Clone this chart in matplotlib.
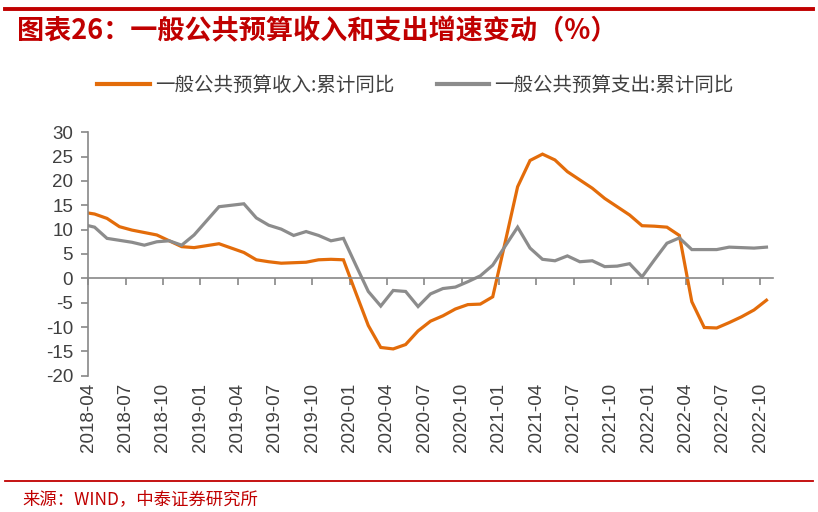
import matplotlib
matplotlib.use("Agg")
import matplotlib.pyplot as plt
from matplotlib.lines import Line2D
import pandas as pd

plt.rcParams["axes.unicode_minus"] = False

# monthly cumulative yoy, 2018-03 .. 2022-10
months = [str(p) for p in pd.period_range("2018-03", "2022-10", freq="M")]

revenue = [13.6, 13.2, 12.3, 10.6, 9.9, 9.4, 8.9, 7.7, 6.5, 6.3,
           6.7, 7.1, 6.2, 5.3, 3.8, 3.4, 3.1, 3.2, 3.3, 3.8, 3.9, 3.8,
           -3.0, -9.7, -14.2, -14.5, -13.6, -10.8, -8.8, -7.7, -6.3, -5.4, -5.3, -3.8,
           7.4, 18.8, 24.2, 25.5, 24.3, 21.9, 20.2, 18.5, 16.4, 14.7, 13.0, 10.8,
           10.7, 10.5, 8.8, -4.8, -10.1, -10.2, -9.1, -7.9, -6.5, -4.5]

spending = [11.1, 10.5, 8.2, 7.8, 7.4, 6.8, 7.5, 7.7, 6.8, 8.9,
            11.8, 14.7, 15.0, 15.3, 12.4, 10.9, 10.1, 8.8, 9.6, 8.8, 7.7, 8.2,
            2.7, -2.7, -5.7, -2.5, -2.7, -5.8, -3.2, -2.1, -1.8, -0.7, 0.5, 2.7,
            6.6, 10.5, 6.2, 3.9, 3.6, 4.6, 3.4, 3.6, 2.4, 2.5, 3.0, 0.3,
            3.8, 7.2, 8.3, 5.9, 5.9, 5.9, 6.4, 6.3, 6.2, 6.4]

name_rev = "一般公共预算收入:累计同比"
name_spend = "一般公共预算支出:累计同比"

cjk = ["Noto Sans CJK SC", "DejaVu Sans"]
red = "#C00000"
orange = "#E36C0A"
grey = "#8C8C8C"
axis_grey = "#888888"
text_grey = "#404040"

# points sit in the middle of each month, ticks at month starts
x = [i - 0.5 for i in range(len(months))]
ticks = list(range(0, 55, 3))
tick_labels = [months[t + 1] for t in ticks]

fig = plt.figure(figsize=(8.18, 5.12), dpi=100)
ax = fig.add_axes([0.108, 0.2662, 0.8366, 0.4756])

ax.plot(x, revenue, color=orange, lw=2.3, solid_joinstyle="miter")
ax.plot(x, spending, color=grey, lw=2.3, solid_joinstyle="miter")

ax.set_xlim(0, 55)
ax.set_ylim(-20, 30)
ax.set_yticks(range(-20, 31, 5))

for s in ["top", "right"]:
    ax.spines[s].set_visible(False)
ax.spines["left"].set_color(axis_grey)
ax.spines["left"].set_linewidth(1.2)
ax.spines["bottom"].set_position(("data", 0))
ax.spines["bottom"].set_color(axis_grey)
ax.spines["bottom"].set_linewidth(1.2)

ax.set_xticks(ticks)
ax.tick_params(axis="x", direction="out", length=5, width=1.2, color=axis_grey,
               labelbottom=False)
ax.tick_params(axis="y", direction="out", length=5, width=1.2, color=axis_grey,
               labelsize=13.5, labelcolor=text_grey, pad=6)
for lab in ax.get_yticklabels():
    lab.set_family("Liberation Sans")

sec = ax.secondary_xaxis("bottom")
sec.set_xticks(ticks)
sec.set_xticklabels(tick_labels, rotation=90, fontsize=13.5, color=text_grey,
                    family="Liberation Sans")
sec.tick_params(length=0, pad=5)
sec.spines["bottom"].set_visible(False)

handles = [Line2D([], [], color=orange, lw=3), Line2D([], [], color=grey, lw=3)]
fig.legend(handles, [name_rev, name_spend], loc="center", bbox_to_anchor=(0.508, 0.834),
           ncol=2, frameon=False, handlelength=2.7, handletextpad=0.25,
           columnspacing=2.2, prop={"family": cjk, "size": 14}, labelcolor=text_grey)

# header / footer
fig.add_artist(Line2D([0.006, 0.994], [1 - 9 / 512] * 2, color=red, lw=2.8,
                      transform=fig.transFigure))
fig.text(17 / 818, 1 - 31 / 512, "图表26：一般公共预算收入和支出增速变动（%）",
         color=red, fontsize=19.5, fontweight="bold", family=cjk, ha="left", va="center")
fig.add_artist(Line2D([0.006, 0.994], [1 - 481 / 512] * 2, color=red, lw=1.3,
                      transform=fig.transFigure))
fig.text(22 / 818, 1 - 499 / 512, "来源：WIND，中泰证券研究所",
         color=red, fontsize=12.5, family=cjk, ha="left", va="center")

fig.savefig("out.png", dpi=100)
